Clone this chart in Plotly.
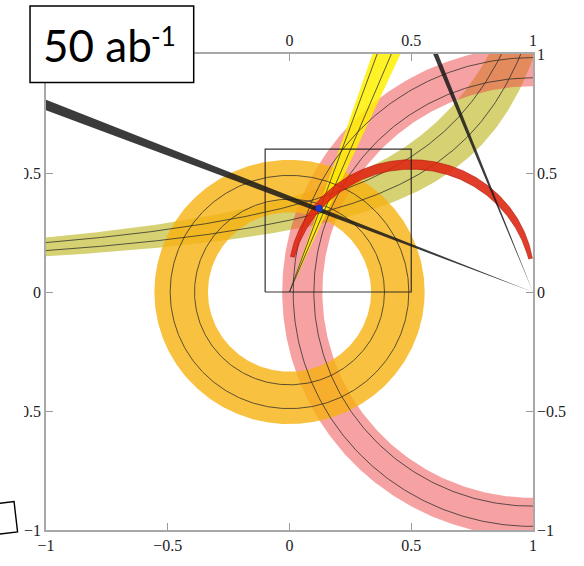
import numpy as np
import plotly.graph_objects as go

# ---------------- values ----------------
# |Vub| ring around (0,0)
vub_center = [0.0, 0.0]
vub_band = [0.335, 0.555]
vub_lines = [0.39, 0.49]
# dm ring around (1,0)
dmd_center = [1.0, 0.0]
dmd_band = [0.865, 1.03]
dmd_lines = [0.90, 0.985]
# eps_K hyperbola  eta = k / (pole - rho)
epsk_pole = 1.36
epsk_band = [0.353, 0.54]
epsk_lines = [0.41, 0.489]
# gamma wedge from (0,0), degrees
gamma_band_deg = [65.5, 71.2]
gamma_lines_deg = [67.3, 70.2]
# sin 2beta wedges from (1,0), degrees
beta_band_deg = [20.9, 22.0]
beta2_band_deg = [67.7, 68.7]
# alpha arc
alpha_center = [0.5, 0.035]
alpha_radius = 0.501
alpha_width = 0.04
alpha_arc_deg = [12.0, 167.0]
# combined apex and zoom box
apex = [0.122, 0.352]
zoom_box_x = [-0.1, 0.5]
zoom_box_y = [0.0, 0.6]

tick_vals = [-1, -0.5, 0, 0.5, 1]
tick_text = ["\u22121", "\u22120.5", "0", "0.5", "1"]
top_tick_vals = [0, 0.5, 1]
top_tick_text = ["0", "0.5", "1"]
label_main = "50 ab"
label_sup = "-1"

# ---------------- colours ----------------
C_OLIVE = "rgba(180,172,0,0.55)"
C_PINK = "rgba(240,70,70,0.5)"
C_ORANGE = "rgba(248,178,16,0.8)"
C_YELLOW = "rgba(255,240,0,0.85)"
C_RED = "rgba(222,40,20,0.9)"
C_BLACKBAND = "rgba(25,25,25,0.85)"
C_LINE = "rgba(40,40,40,0.75)"


def annulus(c, r1, r2, n=500):
    t = np.linspace(0, 2 * np.pi, n)
    xo = c[0] + r2 * np.cos(t)
    yo = c[1] + r2 * np.sin(t)
    xi = c[0] + r1 * np.cos(t[::-1])
    yi = c[1] + r1 * np.sin(t[::-1])
    return np.concatenate([xo, xi]), np.concatenate([yo, yi])


def circle(c, r, n=500):
    t = np.linspace(0, 2 * np.pi, n)
    return c[0] + r * np.cos(t), c[1] + r * np.sin(t)


def wedge(v, a1, a2, far=3.0):
    a = np.radians([a1, a2])
    return ([v[0], v[0] + far * np.cos(a[0]), v[0] + far * np.cos(a[1]), v[0]],
            [v[1], v[1] + far * np.sin(a[0]), v[1] + far * np.sin(a[1]), v[1]])


def hyperbola(k, x0, x1, n=300):
    xx = np.linspace(x0, x1, n)
    return xx, k / (epsk_pole - xx)


fig = go.Figure()


def fill(x, y, color, line_color=None, lw=0):
    fig.add_trace(go.Scatter(x=x, y=y, mode="lines", fill="toself", fillcolor=color,
                             line=dict(width=lw, color=line_color or color),
                             hoverinfo="skip", showlegend=False))


def line(x, y, color=C_LINE, w=1):
    fig.add_trace(go.Scatter(x=x, y=y, mode="lines", line=dict(width=w, color=color),
                             hoverinfo="skip", showlegend=False))


# eps_K band (ends beyond the top/right frame)
k1, k2 = epsk_band
ytop = 1.06
xu, yu = hyperbola(k2, -1.05, epsk_pole - k2 / ytop)
xl, yl = hyperbola(k1, epsk_pole - k1 / ytop, -1.05)
fill(np.concatenate([xu, xl]), np.concatenate([yu, yl]), C_OLIVE)

# dm ring
x, y = annulus(dmd_center, *dmd_band)
fill(x, y, C_PINK)

# Vub ring
x, y = annulus(vub_center, *vub_band)
fill(x, y, C_ORANGE)

# gamma wedge
x, y = wedge([0, 0], *gamma_band_deg)
fill(x, y, C_YELLOW)

# thin contour lines
for k in epsk_lines:
    line(*hyperbola(k, -1.05, epsk_pole - k / ytop))
for r in dmd_lines:
    line(*circle(dmd_center, r))
for r in vub_lines:
    line(*circle(vub_center, r))
for a in gamma_lines_deg:
    ar = np.radians(a)
    line([0, 3 * np.cos(ar)], [0, 3 * np.sin(ar)])

# alpha arc with tapering width
th = np.radians(np.linspace(alpha_arc_deg[0], alpha_arc_deg[1], 300))
w = alpha_width * np.sin(th) ** 0.6
ro = alpha_radius + w / 2
ri = alpha_radius - w / 2
ax_ = np.concatenate([alpha_center[0] + ro * np.cos(th), alpha_center[0] + ri[::-1] * np.cos(th[::-1])])
ay_ = np.concatenate([alpha_center[1] + ro * np.sin(th), alpha_center[1] + ri[::-1] * np.sin(th[::-1])])
fill(ax_, ay_, C_RED, "rgba(170,20,10,0.9)", 0.6)

# sin2beta wedges from (1,0)
x, y = wedge([1, 0], 180 - beta_band_deg[1], 180 - beta_band_deg[0])
fill(x, y, C_BLACKBAND)
x, y = wedge([1, 0], 180 - beta2_band_deg[1], 180 - beta2_band_deg[0])
fill(x, y, C_BLACKBAND)

# apex
fig.add_trace(go.Scatter(x=[apex[0]], y=[apex[1]], mode="markers",
                         marker=dict(size=7, color="rgb(25,55,200)", line=dict(width=0)),
                         hoverinfo="skip", showlegend=False))

# zoom box
line([zoom_box_x[0], zoom_box_x[1], zoom_box_x[1], zoom_box_x[0], zoom_box_x[0]],
     [zoom_box_y[0], zoom_box_y[0], zoom_box_y[1], zoom_box_y[1], zoom_box_y[0]],
     color="rgba(30,30,30,0.9)", w=1.2)

# dummy trace for top/right label axes
fig.add_trace(go.Scatter(x=[0], y=[0], xaxis="x2", yaxis="y2", mode="markers",
                         marker=dict(size=1, opacity=0), hoverinfo="skip", showlegend=False))

tickfont = dict(family="Liberation Serif", size=16, color="#222")
axis_common = dict(range=[-1, 1], tickvals=tick_vals, ticktext=tick_text,
                   showgrid=False, zeroline=False, tickfont=tickfont)

W, H = 584, 566
L, R, T, B = 45, 51, 54, 26
fig.update_layout(
    width=W, height=H,
    margin=dict(l=L, r=R, t=T, b=B),
    plot_bgcolor="white", paper_bgcolor="white", showlegend=False,
    xaxis=dict(**axis_common, ticks="inside", ticklen=7, tickcolor="#9a9a9a", tickwidth=1,
               showline=True, linecolor="#a8a8a8", linewidth=1.5, mirror="ticks"),
    yaxis=dict(**axis_common, ticks="inside", ticklen=7, tickcolor="#9a9a9a", tickwidth=1,
               showline=True, linecolor="#a8a8a8", linewidth=1.5, mirror="ticks"),
    xaxis2=dict(range=[-1, 1], overlaying="x", side="top", tickvals=top_tick_vals,
                ticktext=top_tick_text, showgrid=False, zeroline=False, showline=False,
                ticks="", tickfont=tickfont, ticklabelstandoff=4),
    yaxis2=dict(range=[-1, 1], overlaying="y", side="right", tickvals=tick_vals,
                ticktext=tick_text, showgrid=False, zeroline=False, showline=False,
                ticks="", tickfont=tickfont, ticklabelstandoff=3),
)

pw, ph = W - L - R, H - T - B


def px(xp):
    return (xp - L) / pw


def py(yp):
    return (H - B - yp) / ph


# white strip that clips the left labels (above the tilted box)
fig.add_shape(type="rect", xref="paper", yref="paper", x0=px(-5), x1=px(23), y0=py(505), y1=py(-5),
              fillcolor="white", line=dict(width=0), layer="above")
fig.add_shape(type="rect", xref="paper", yref="paper", x0=px(-5), x1=px(18), y0=py(H + 5), y1=py(505),
              fillcolor="white", line=dict(width=0), layer="above")
# tilted box fragment at lower left
fig.add_shape(type="path", xref="paper", yref="paper",
              path=f"M {px(-8)} {py(513.5)} L {px(13)} {py(511)} L {px(16.5)} {py(542)} L {px(-8)} {py(545)} Z",
              fillcolor="white", line=dict(color="black", width=1.4), layer="above")
# luminosity label box
fig.add_shape(type="rect", xref="paper", yref="paper", x0=px(29), x1=px(193), y0=py(83), y1=py(5),
              fillcolor="white", line=dict(color="black", width=1.5), layer="above")
fig.add_annotation(xref="paper", yref="paper", x=px(41), y=py(45), xanchor="left", yanchor="middle",
                   text=label_main, showarrow=False, borderpad=0,
                   font=dict(family="Lato", size=44, color="black"))
fig.add_annotation(xref="paper", yref="paper", x=px(149), y=py(36), xanchor="left", yanchor="middle",
                   text=label_sup, showarrow=False, borderpad=0,
                   font=dict(family="Lato", size=26, color="black"))

fig.write_html("out.html")
